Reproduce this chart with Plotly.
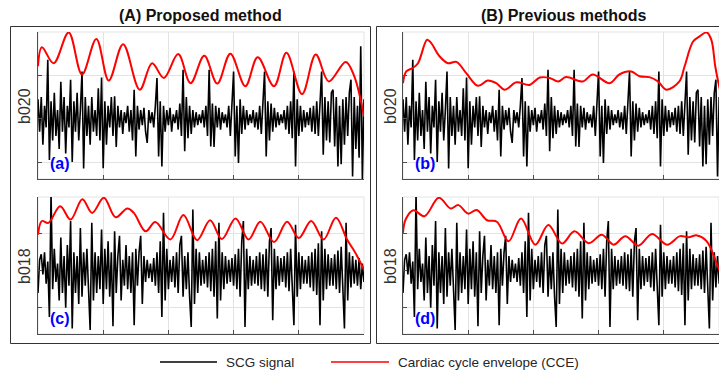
import plotly.graph_objects as go

W, H = 719, 374

# ---------------- data ----------------
# SCG signal of record b020 (sample index on x, amplitude on y)
b020 = [
    0.45, -0.30, 0.50, -0.60, 0.30, -0.20, 1.36, -0.95, 0.40, -0.50,
    0.60, -0.40, 0.20, -0.70, 0.85, -0.30, 0.50, -0.80, 0.30, -0.20,
    0.90, -1.00, 0.40, -0.30, 0.60, -0.50, 0.20, 1.09, -1.15, 0.50,
    -0.40, 0.30, -0.60, 0.50, -0.30, 0.20, -0.40, 0.70, -0.50, 0.95,
    -1.14, 0.40, -0.60, 0.30, -0.20, 0.50, -0.40, 0.52, -0.65, 0.30,
    -0.20, 0.20, -0.35, 0.15, -0.10, 0.30, -0.30, 0.20, -0.50, 0.67,
    -0.87, 0.30, -0.25, 0.20, -0.15, 0.25, -0.30, -0.56, 0.20, -0.10,
    0.15, -0.20, 0.30, 0.94, -0.87, 0.40, -1.10, 0.30, -0.30, 0.20,
    -0.15, 0.25, -0.30, 0.10, -0.10, 0.20, -0.25, 0.35, -0.40, 1.13,
    -0.75, 0.50, -0.45, 0.30, -0.35, 0.20, -0.20, 0.15, -0.15, 0.10,
    -0.10, 0.20, -0.20, 0.30, -0.40, 1.13, -0.64, 0.35, -0.65, 0.30,
    -0.20, 0.25, -0.25, 0.15, -0.10, 0.10, -0.20, 0.30, -0.40, 0.40,
    1.09, -0.87, 0.30, -1.02, 0.45, -0.35, 0.30, -0.25, 0.20, -0.15,
    0.10, -0.10, 0.20, -0.20, 0.15, -0.25, 0.30, -0.35, 0.40, 1.09,
    -0.87, 0.40, -0.50, 0.35, -0.30, 0.25, -0.20, 0.15, -0.15, 0.10,
    -0.10, 0.20, -0.25, 0.30, -0.35, 0.40, -0.45, 1.09, -1.10, 0.45,
    -0.40, 0.30, -0.30, 0.20, -0.20, 0.15, -0.15, 0.25, -0.30, 0.30,
    -0.35, 0.40, -0.40, 0.50, 1.09, -0.83, 0.50, -0.50, 0.40, -0.55,
    0.60, 0.67, -0.64, 0.50, -1.10, 0.30, -1.05, 0.45, -0.60, 0.50,
    -0.40, 0.60, 0.90, -1.33, 0.50, -0.70, 0.30, -0.90, 1.67, -1.40, 0.45,
]

# SCG signal of record b018
b018 = [
    -0.60, 0.30, 0.45, -0.10, 0.50, -0.35, 0.25, -1.25, 2.10, -0.50,
    0.60, -0.30, 0.20, -0.80, 0.90, -0.60, 0.40, -1.00, 0.70, -0.40,
    1.35, -1.56, 0.50, -0.60, 0.40, -0.90, 1.16, -0.70, 0.50, -0.40,
    0.60, -0.50, -1.60, 1.30, -0.80, 0.50, -0.60, 0.40, -0.50, 1.12,
    -0.90, 0.60, -0.50, 0.80, -0.70, 0.50, -1.50, 1.07, -0.60, 0.40,
    0.95, -0.80, 0.30, -0.40, 0.70, -0.50, 0.40, -0.60, 0.50, -1.47,
    0.60, -0.40, 0.50, 0.95, -0.90, 0.40, -0.30, 0.30, -0.20, 0.20,
    -0.30, 0.35, -0.40, 0.50, -0.60, 0.80, -1.25, 1.57, -0.80, 0.60,
    -0.50, 0.30, -0.30, 0.40, -0.45, 0.50, -0.60, 0.70, 0.95, -0.70,
    0.40, -0.50, 0.50, -0.70, -1.52, 1.66, -0.90, 0.60, -0.60, 0.50,
    -0.40, 0.30, -0.35, 0.40, -0.45, 0.50, -0.55, 0.60, -0.70, 0.80,
    -1.29, 1.30, -0.80, 0.50, -0.50, 0.40, -0.35, 0.30, -0.30, 0.35,
    -0.40, 0.45, -0.50, 0.60, -0.70, 0.80, 1.35, -1.52, 0.60, -0.50,
    0.40, -0.40, 0.30, -0.35, 0.40, -0.40, 0.50, -0.50, 0.45, -0.55,
    0.60, -0.70, 0.80, 1.16, -1.34, 0.60, -0.50, 0.40, -0.40, 0.35,
    -0.30, 0.40, -0.45, 0.50, -0.55, 0.60, -0.70, -1.47, 1.25, -0.70,
    0.50, -0.50, 0.40, -0.35, 0.30, -0.35, 0.40, -0.45, 0.50, -0.55,
    0.60, -0.65, 0.75, -1.47, 1.07, -0.80, 0.60, -0.50, 0.45, -0.40,
    0.35, -0.40, 0.45, -0.50, 0.55, -0.60, 0.65, -0.70, -1.56, 1.30,
    -0.80, 0.50, -0.45, 0.40, -0.35, 0.30, -0.40, 0.35, -0.50, 0.20, -0.30,
]

# Cardiac cycle envelopes (CCE)
cce_a_x = [0, 2.4, 9.6, 18.8, 27, 35.8, 43.4, 52.2, 62.4, 70, 77.2, 86, 93.6,
           102, 110, 118, 127.2, 134.8, 144.8, 152.4, 162, 170.4, 178.4, 188.8, 194, 200]
cce_a_y = [1.21, 1.65, 1.28, 1.99, 1.02, 1.84, 0.88, 1.72, 0.67, 1.28, 0.94, 1.49, 0.82,
           1.45, 0.81, 1.50, 0.75, 1.42, 0.75, 1.52, 0.57, 1.48, 0.86, 1.31, 0.98, 0.05]

cce_b_x = [0, 2, 6, 9.2, 14.8, 17.2, 22.4, 27.6, 32.8, 38.8, 46, 52, 57.2, 62.4, 69.6,
           77.6, 84, 90, 95.2, 100, 110.4, 116.4, 126.8, 132.8, 140, 145.2, 151.2, 156.4,
           161.6, 169.6, 172.8, 178, 182, 186.4, 189.2, 191.6, 193.6, 196.4, 200]
cce_b_y = [0.82, 1.09, 1.17, 1.28, 1.82, 1.75, 1.44, 1.28, 1.31, 1.05, 0.76, 0.88, 0.82, 0.67,
           0.84, 0.78, 0.95, 0.94, 0.86, 0.96, 0.86, 1.02, 0.82, 1.02, 1.09, 0.98, 0.96, 0.86,
           0.67, 0.86, 1.21, 1.78, 1.90, 1.99, 1.82, 1.21, 0.82, 0.40, 0.00]

cce_c_x = [0, 2.4, 6.4, 13.6, 20, 27.2, 33.2, 40.4, 47.6, 54.8, 58.8, 66, 72, 81.2, 89.2,
           97.6, 105.6, 112.8, 121.2, 129.2, 136.4, 144.8, 152.8, 160, 167.6, 175.2, 182.8,
           189.6, 194.8, 200]
cce_c_y = [0.98, 1.35, 1.30, 1.75, 1.39, 1.94, 1.57, 1.98, 1.45, 1.69, 1.57, 1.07, 1.32, 0.85,
           1.51, 0.83, 1.37, 0.86, 1.42, 0.85, 1.33, 0.78, 1.33, 0.89, 1.35, 0.85, 1.44,
           0.85, 0.48, 0.03]

cce_d_x = [0, 1.6, 6.4, 13.2, 22, 29.2, 34, 40, 45.2, 51.6, 57.6, 64.8, 72.4, 81.2, 89.2,
           97.6, 105.2, 114, 122, 129.2, 136.4, 144.4, 152.8, 162, 170, 175.2, 180.4, 186.4,
           193.2, 196, 200]
cce_d_y = [1.03, 1.39, 1.64, 1.48, 1.98, 1.69, 1.78, 1.55, 1.65, 1.37, 1.33, 0.80, 1.42, 0.71,
           1.24, 0.74, 1.07, 0.75, 0.98, 0.71, 0.94, 0.68, 1.00, 0.71, 0.94, 0.91, 0.96, 0.80,
           0.12, -0.15, -0.35]

panel_titles = ["(A) Proposed method", "(B) Previous methods"]
row_labels = ["b020", "b018"]
panel_tags = ["(a)", "(b)", "(c)", "(d)"]
legend_names = ["SCG signal", "Cardiac cycle envelope (CCE)"]

# ---------------- layout helpers ----------------
def fx(p):
    return p / W


def fy(p):
    return 1 - p / H


FONT = "Arial, 'Liberation Sans', sans-serif"
AXC = "#4d4d4d"
GRIDC = "#e3e3e3"

# plot areas in pixels: (left, right, top, bottom)
areas = {
    1: (38, 364, 32, 179),
    2: (403, 719, 32, 179),
    3: (38, 364, 197, 334),
    4: (403, 719, 197, 334),
}
xranges = {1: [0, 200], 2: [0, 193.9], 3: [0, 200], 4: [0, 193.9]}
yranges = {1: [-1.39, 2.0], 2: [-1.39, 2.0], 3: [-1.71, 2.0], 4: [-1.71, 2.0]}

signals = {1: b020, 2: b020, 3: b018, 4: b018}
envs = {1: (cce_a_x, cce_a_y), 2: (cce_b_x, cce_b_y),
        3: (cce_c_x, cce_c_y), 4: (cce_d_x, cce_d_y)}

fig = go.Figure()
layout = dict(
    width=W, height=H,
    margin=dict(l=0, r=0, t=0, b=0),
    paper_bgcolor="white", plot_bgcolor="white",
    showlegend=False,
    font=dict(family=FONT, color="#262626"),
)
shapes = []
annotations = []

for k in (1, 2, 3, 4):
    sx = "" if k == 1 else str(k)
    L, R, T, B = areas[k]
    fig.add_trace(go.Scatter(
        y=signals[k], mode="lines", name=legend_names[0],
        line=dict(color="black", width=1.6),
        xaxis="x" + sx, yaxis="y" + sx, hoverinfo="skip"))
    ex, ey = envs[k]
    fig.add_trace(go.Scatter(
        x=ex, y=ey, mode="lines", name=legend_names[1],
        line=dict(color="#ff0000", width=2, shape="spline", smoothing=1.0),
        xaxis="x" + sx, yaxis="y" + sx, hoverinfo="skip"))
    layout["xaxis" + sx] = dict(
        domain=[fx(L), fx(R)], range=xranges[k], anchor="y" + sx,
        showticklabels=False, ticks="inside", ticklen=4, tickcolor=AXC,
        showline=True, linecolor=AXC, linewidth=1,
        showgrid=True, gridcolor=GRIDC, gridwidth=1, zeroline=False,
        tick0=0, dtick=40, fixedrange=True)
    layout["yaxis" + sx] = dict(
        domain=[fy(B), fy(T)], range=yranges[k], anchor="x" + sx,
        showticklabels=False, ticks="inside", ticklen=4, tickcolor=AXC,
        showline=True, linecolor=AXC, linewidth=1,
        showgrid=True, gridcolor=GRIDC, gridwidth=1, zeroline=False,
        tick0=0, dtick=1, fixedrange=True)
    # light frame around plot area (top / right edges)
    shapes.append(dict(type="rect", xref="paper", yref="paper",
                       x0=fx(L), x1=fx(R), y0=fy(B), y1=fy(T),
                       line=dict(color=GRIDC, width=1), layer="below"))
    # panel tag
    annotations.append(dict(
        text="<b>%s</b>" % panel_tags[k - 1], xref="paper", yref="paper",
        x=fx(L + 22), y=fy(B - 16), xanchor="center", yanchor="middle",
        showarrow=False, font=dict(size=16, color="#0000ff", family=FONT)))

# panel boxes
shapes.append(dict(type="rect", xref="paper", yref="paper",
                   x0=fx(10.5), x1=fx(370.5), y0=fy(343.5), y1=fy(26.5),
                   line=dict(color="#333333", width=1)))
shapes.append(dict(type="rect", xref="paper", yref="paper",
                   x0=fx(376.5), x1=fx(760), y0=fy(343.5), y1=fy(26.5),
                   line=dict(color="#333333", width=1)))

# titles
for t, cx in zip(panel_titles, (200, 563)):
    annotations.append(dict(
        text="<b>%s</b>" % t, xref="paper", yref="paper", x=fx(cx), y=fy(15),
        xanchor="center", yanchor="middle", showarrow=False,
        font=dict(size=16, color="#111111", family=FONT)))

# row labels
for lab, cy in zip(row_labels, (106, 266)):
    for cx in (24, 390):
        annotations.append(dict(
            text=lab, xref="paper", yref="paper", x=fx(cx), y=fy(cy),
            xanchor="center", yanchor="middle", textangle=-90, showarrow=False,
            font=dict(size=16, color="#333333", family=FONT)))

# legend (drawn manually)
leg_items = [(160, 217, 224, "black", legend_names[0]),
             (331, 389, 396, "#ff0000", legend_names[1])]
for x0, x1, tx, col, name in leg_items:
    shapes.append(dict(type="line", xref="paper", yref="paper",
                       x0=fx(x0), x1=fx(x1), y0=fy(362), y1=fy(362),
                       line=dict(color=col, width=1.5)))
    annotations.append(dict(
        text=name, xref="paper", yref="paper", x=fx(tx), y=fy(362),
        xanchor="left", yanchor="middle", showarrow=False,
        font=dict(size=13.5, color="#262626", family=FONT)))

layout["shapes"] = shapes
layout["annotations"] = annotations
fig.update_layout(**layout)

fig.write_html("out.html", config={"displayModeBar": False})
